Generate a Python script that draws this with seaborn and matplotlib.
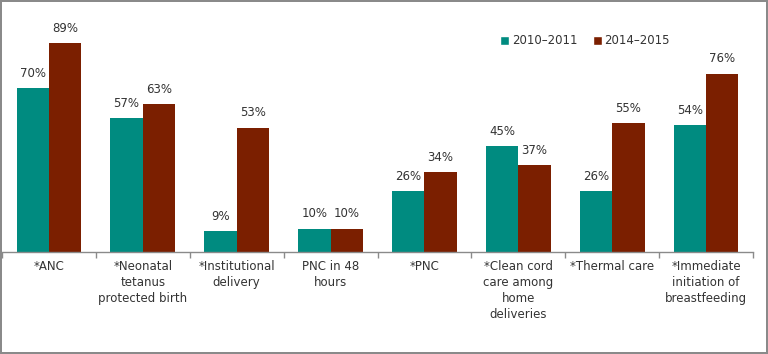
import matplotlib
matplotlib.use("Agg")
import matplotlib.pyplot as plt
import seaborn as sns
import pandas as pd
from matplotlib.patches import Patch
from matplotlib.ticker import FixedLocator

categories = ["*ANC", "*Neonatal\ntetanus\nprotected birth", "*Institutional\ndelivery",
              "PNC in 48\nhours", "*PNC", "*Clean cord\ncare among\nhome\ndeliveries",
              "*Thermal care", "*Immediate\ninitiation of\nbreastfeeding"]
periods = ["2010\u20132011", "2014\u20132015"]
values_2010 = [70, 57, 9, 10, 26, 45, 26, 54]
values_2014 = [89, 63, 53, 10, 34, 37, 55, 76]
colors = ["#008B80", "#7B1F00"]

rows = []
for c, a, b in zip(categories, values_2010, values_2014):
    rows.append({"indicator": c, "period": periods[0], "value": a})
    rows.append({"indicator": c, "period": periods[1], "value": b})
df = pd.DataFrame(rows)

sns.set_style("white")
plt.rcParams["font.family"] = ["DejaVu Sans"]

fig = plt.figure(figsize=(7.68, 3.54), dpi=100)
fig.patch.set_edgecolor("#8a8a8a")
fig.patch.set_linewidth(1.5)
ax = fig.add_axes([2 / 768, 102 / 354, 751 / 768, 234.5 / 354])

sns.barplot(data=df, x="indicator", y="value", hue="period", palette=colors,
            width=0.69, ax=ax, legend=False, saturation=1, linewidth=0)

for cont in ax.containers:
    ax.bar_label(cont, fmt="%d%%", padding=6, fontsize=8.5, color="#333333")

ax.set_ylim(0, 100)
ax.set_xlim(-0.5, len(categories) - 0.5)
ax.set_xlabel("")
ax.set_ylabel("")
ax.set_yticks([])
for s in ["top", "right", "left"]:
    ax.spines[s].set_visible(False)
ax.spines["bottom"].set_color("#8a8a8a")
ax.spines["bottom"].set_linewidth(1)

ax.tick_params(axis="x", which="major", bottom=False, length=0, pad=6, labelsize=8.5,
               labelcolor="#333333")
ax.xaxis.set_minor_locator(FixedLocator([i - 0.5 for i in range(len(categories) + 1)]))
ax.tick_params(axis="x", which="minor", bottom=True, length=4, color="#8a8a8a", width=1)
for lab in ax.get_xticklabels():
    lab.set_linespacing(1.3)

handles = [Patch(facecolor=colors[0], label=periods[0]),
           Patch(facecolor=colors[1], label=periods[1])]
fig.legend(handles=handles, loc="center", bbox_to_anchor=(585 / 768, 1 - 41 / 354),
           ncol=2, frameon=False, fontsize=8.5, handlelength=0.75, handleheight=0.75,
           handletextpad=0.25, columnspacing=1.3, labelcolor="#333333")

fig.savefig("out.png", dpi=100, edgecolor=fig.get_edgecolor())
